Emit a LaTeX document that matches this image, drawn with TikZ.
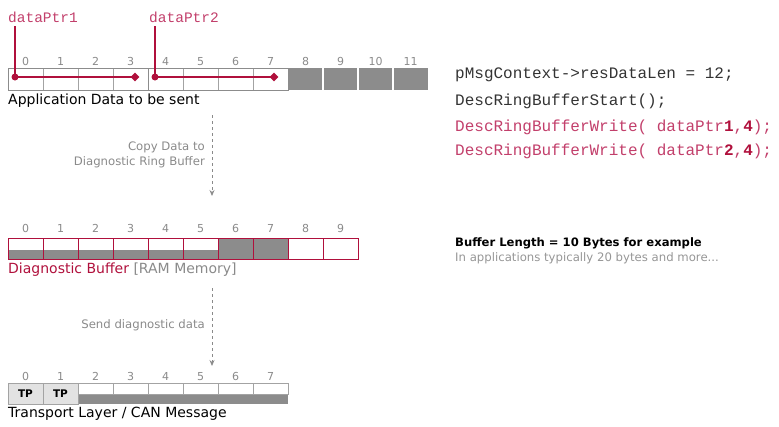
\documentclass[tikz,border=0pt]{standalone}
\usepackage{fontspec}
\setmainfont{DejaVu Sans}
\setmonofont{Liberation Mono}
\usetikzlibrary{arrows.meta,shapes.geometric}
\definecolor{crimson}{HTML}{B0103C}
\definecolor{codered}{HTML}{C23F6B}
\definecolor{cellgray}{HTML}{8C8C8C}
\definecolor{idxgray}{HTML}{8A8A8A}
\definecolor{tpgray}{HTML}{E2E2E2}
\definecolor{codegray}{HTML}{333333}
\tikzset{
  idx/.style={text=idxgray, font=\fontsize{11}{13}\selectfont, inner sep=0pt, anchor=base},
  appcell/.style={draw=cellgray!80, line width=0.8pt},
  diagcell/.style={draw=crimson, line width=0.8pt},
  ptrline/.style={draw=crimson, line width=1.3pt},
  ptrdot/.style={circle, fill=crimson, inner sep=0pt, minimum size=7pt},
  ptrtip/.style={diamond, fill=crimson, inner sep=0pt, minimum size=9pt},
  flowarrow/.style={draw=idxgray, dashed, line width=0.8pt, -{Stealth[length=6pt,width=5pt]}},
  note/.style={text=idxgray, font=\fontsize{11.7}{14.5}\selectfont, align=right, anchor=east, inner sep=0pt},
  caption/.style={font=\fontsize{14}{16}\selectfont, anchor=west, inner sep=0pt},
  codeline/.style={font=\ttfamily\fontsize{16}{18}\selectfont, anchor=west, inner sep=0pt}
}
\begin{document}
\begin{tikzpicture}[x=1pt,y=-1pt]
\useasboundingbox (0,0) rectangle (779,426);

% Application data row
\fill[cellgray] (288,68) rectangle (428,90);
\draw[white, line width=1.5pt] (323,68) -- (323,90);
\draw[white, line width=1.5pt] (358,68) -- (358,90);
\draw[white, line width=1.5pt] (393,68) -- (393,90);
\draw[appcell] (8,68) rectangle +(35,22);
\draw[appcell] (43,68) rectangle +(35,22);
\draw[appcell] (78,68) rectangle +(35,22);
\draw[appcell] (113,68) rectangle +(35,22);
\draw[appcell] (148,68) rectangle +(35,22);
\draw[appcell] (183,68) rectangle +(35,22);
\draw[appcell] (218,68) rectangle +(35,22);
\draw[appcell] (253,68) rectangle +(35,22);
\draw[draw=cellgray, line width=1pt] (8,68) rectangle (148,90);
\draw[draw=cellgray, line width=1pt] (148,68) rectangle (288,90);
\node[idx] (a0) at (25.5,65) {0};
\node[idx] (a1) at (60.5,65) {1};
\node[idx] (a2) at (95.5,65) {2};
\node[idx] (a3) at (130.5,65) {3};
\node[idx] (a4) at (165.5,65) {4};
\node[idx] (a5) at (200.5,65) {5};
\node[idx] (a6) at (235.5,65) {6};
\node[idx] (a7) at (270.5,65) {7};
\node[idx] (a8) at (305.5,65) {8};
\node[idx] (a9) at (340.5,65) {9};
\node[idx] (a10) at (375.5,65) {10};
\node[idx] (a11) at (410.5,65) {11};
\node[caption] (appLabel) at (8,101) {Application Data to be sent};

% Pointers
\node[codeline, font=\ttfamily\fontsize{14.5}{16}\selectfont, text=codered] (ptrA) at (8,17) {dataPtr1};
\node[codeline, font=\ttfamily\fontsize{14.5}{16}\selectfont, text=codered] (ptrB) at (149,17) {dataPtr2};
\node[ptrdot] (ptrAstart) at (15,77) {};
\node[ptrtip] (ptrAend) at (135,77) {};
\node[ptrdot] (ptrBstart) at (155,77) {};
\node[ptrtip] (ptrBend) at (274,77) {};
\draw[ptrline] (ptrAstart |- 0,26) -- (ptrAstart.center) -- (ptrAend.center);
\draw[ptrline] (ptrBstart |- 0,26) -- (ptrBstart.center) -- (ptrBend.center);

% Copy arrow
\coordinate (copyTop) at (212,115);
\coordinate (copyBot) at (212,196);
\draw[flowarrow] (copyTop) -- (copyBot);
\node[note] (copyNote) at (205,155) {Copy Data to\\Diagnostic Ring Buffer};

% Diagnostic buffer row
\fill[cellgray] (8,250) rectangle (218,259);
\fill[cellgray] (218,238) rectangle (288,259);
\draw[diagcell] (8,238) rectangle +(35,21);
\draw[diagcell] (43,238) rectangle +(35,21);
\draw[diagcell] (78,238) rectangle +(35,21);
\draw[diagcell] (113,238) rectangle +(35,21);
\draw[diagcell] (148,238) rectangle +(35,21);
\draw[diagcell] (183,238) rectangle +(35,21);
\draw[diagcell] (218,238) rectangle +(35,21);
\draw[diagcell] (253,238) rectangle +(35,21);
\draw[diagcell] (288,238) rectangle +(35,21);
\draw[diagcell] (323,238) rectangle +(35,21);
\node[idx] (d0) at (25.5,232) {0};
\node[idx] (d1) at (60.5,232) {1};
\node[idx] (d2) at (95.5,232) {2};
\node[idx] (d3) at (130.5,232) {3};
\node[idx] (d4) at (165.5,232) {4};
\node[idx] (d5) at (200.5,232) {5};
\node[idx] (d6) at (235.5,232) {6};
\node[idx] (d7) at (270.5,232) {7};
\node[idx] (d8) at (305.5,232) {8};
\node[idx] (d9) at (340.5,232) {9};
\node[caption] (diagLabel) at (8,270) {\textcolor{crimson}{Diagnostic Buffer} \textcolor{idxgray}{[RAM Memory]}};

% Send arrow
\coordinate (sendTop) at (212,288);
\coordinate (sendBot) at (212,366);
\draw[flowarrow] (sendTop) -- (sendBot);
\node[note] (sendNote) at (205,325) {Send diagnostic data};

% Transport layer row
\fill[cellgray] (78,394) rectangle (288,404);
\draw[appcell, fill=tpgray] (8,383) rectangle +(35,21);
\draw[appcell, fill=tpgray] (43,383) rectangle +(35,21);
\draw[appcell] (78,383) rectangle +(35,11);
\draw[appcell] (113,383) rectangle +(35,11);
\draw[appcell] (148,383) rectangle +(35,11);
\draw[appcell] (183,383) rectangle +(35,11);
\draw[appcell] (218,383) rectangle +(35,11);
\draw[appcell] (253,383) rectangle +(35,11);
\node[font=\bfseries\fontsize{10.5}{12}\selectfont, inner sep=0pt] (tp0) at (25.5,394) {TP};
\node[font=\bfseries\fontsize{10.5}{12}\selectfont, inner sep=0pt] (tp1) at (60.5,394) {TP};
\node[idx] (t0) at (25.5,380) {0};
\node[idx] (t1) at (60.5,380) {1};
\node[idx] (t2) at (95.5,380) {2};
\node[idx] (t3) at (130.5,380) {3};
\node[idx] (t4) at (165.5,380) {4};
\node[idx] (t5) at (200.5,380) {5};
\node[idx] (t6) at (235.5,380) {6};
\node[idx] (t7) at (270.5,380) {7};
\node[caption] (tpLabel) at (8,414) {Transport Layer / CAN Message};

% Code
\node[codeline, text=codegray] (code1) at (455,75) {pMsgContext->resDataLen = 12;};
\node[codeline, text=codegray] (code2) at (455,101) {DescRingBufferStart();};
\node[codeline, text=codered] (code3) at (455,127) {DescRingBufferWrite( dataPtr\textcolor{crimson}{\textbf{1}},\textcolor{crimson}{\textbf{4}});};
\node[codeline, text=codered] (code4) at (455,151) {DescRingBufferWrite( dataPtr\textcolor{crimson}{\textbf{2}},\textcolor{crimson}{\textbf{4}});};

% Buffer note
\node[font=\bfseries\fontsize{11.6}{13}\selectfont, anchor=west, inner sep=0pt] (lenNote) at (455,243) {Buffer Length = 10 Bytes for example};
\node[font=\fontsize{11.7}{13}\selectfont, text=idxgray!90, anchor=west, inner sep=0pt] (lenHint) at (455,258) {In applications typically 20 bytes and more...};
\end{tikzpicture}
\end{document}
